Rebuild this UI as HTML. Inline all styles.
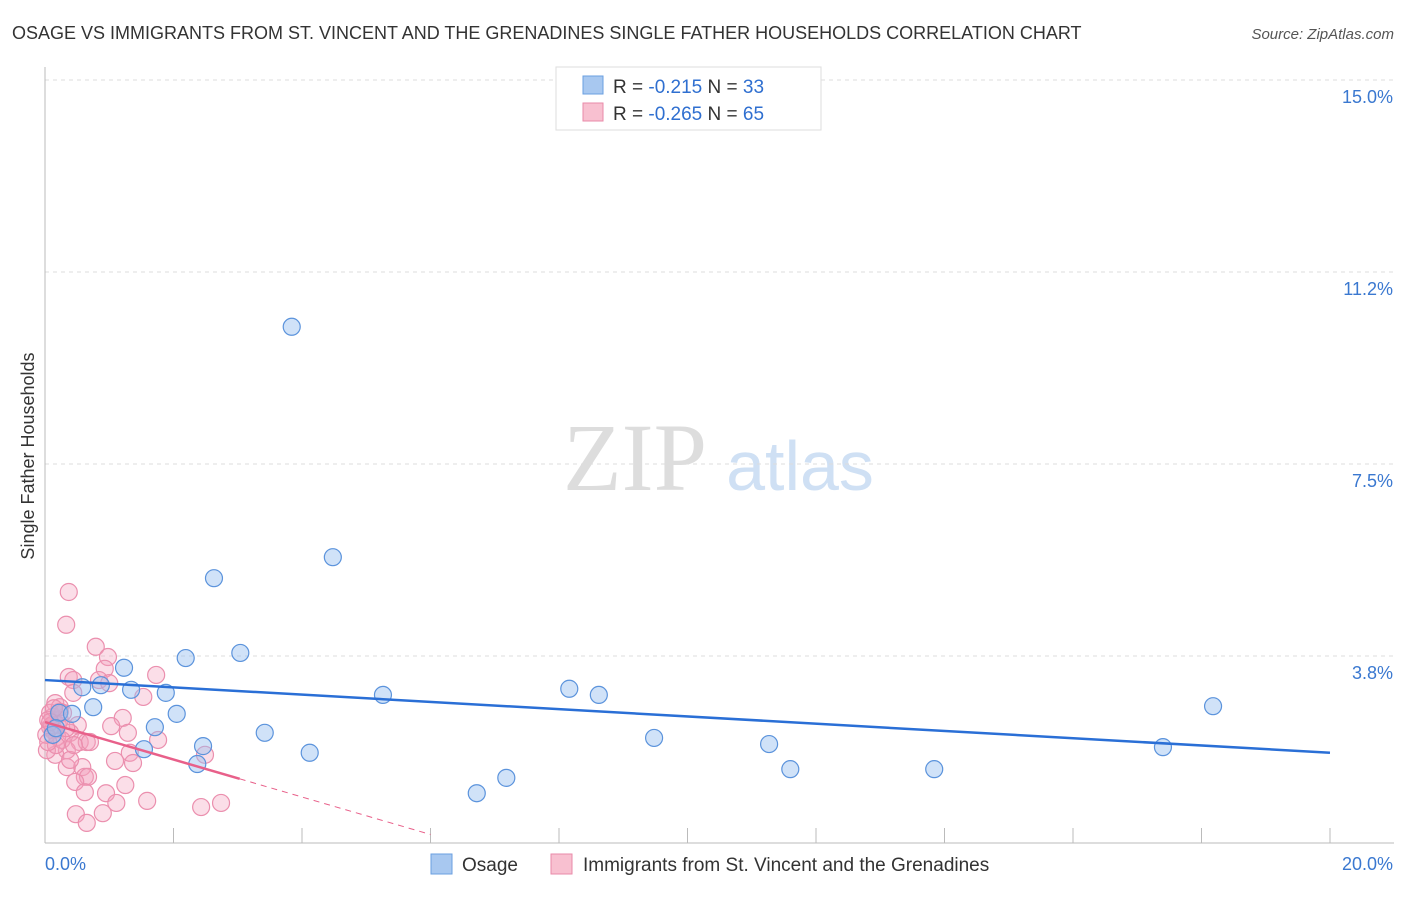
<!DOCTYPE html>
<html><head><meta charset="utf-8"><style>
body{margin:0;background:#fff;font-family:"Liberation Sans",sans-serif}
</style></head><body>
<svg id="c" width="1406" height="892" xmlns="http://www.w3.org/2000/svg">
<text x="12" y="39" font-size="18" fill="#333">OSAGE VS IMMIGRANTS FROM ST. VINCENT AND THE GRENADINES SINGLE FATHER HOUSEHOLDS CORRELATION CHART</text>
<text x="1394" y="39" font-size="15" fill="#555" font-style="italic" text-anchor="end">Source: ZipAtlas.com</text>
<text x="635" y="490" font-size="96" fill="#ddd" font-family="Liberation Serif,serif" text-anchor="middle">ZIP</text>
<text x="800" y="490" font-size="70" fill="#cfe0f4" text-anchor="middle">atlas</text>
<text transform="translate(34,456) rotate(-90)" font-size="18" fill="#333" text-anchor="middle">Single Father Households</text>
<g id="grid"></g><g id="pts"></g><g id="lines"></g>
<g>
<rect x="556" y="67" width="265" height="63" fill="#fff" stroke="#ddd"/>
<rect x="583" y="76" width="20" height="18" fill="#a8c8f0" stroke="#6a9fe0"/>
<rect x="583" y="103" width="20" height="18" fill="#f8c0d0" stroke="#e98aa8"/>
<text x="613" y="93" font-size="19" fill="#333">R = <tspan fill="#2f6fd0">-0.215</tspan>   N = <tspan fill="#2f6fd0">33</tspan></text>
<text x="613" y="120" font-size="19" fill="#333">R = <tspan fill="#2f6fd0">-0.265</tspan>   N = <tspan fill="#2f6fd0">65</tspan></text>
</g>
<g>
<rect x="431" y="854" width="21" height="20" fill="#a8c8f0" stroke="#6a9fe0"/>
<text x="462" y="871" font-size="19" fill="#333">Osage</text>
<rect x="551" y="854" width="21" height="20" fill="#f8c0d0" stroke="#e98aa8"/>
<text x="583" y="871" font-size="19" fill="#333">Immigrants from St. Vincent and the Grenadines</text>
</g>
</svg>
<script>
const yTicks=[3.75,7.5,11.25,15];
const yTickLabels=["3.8%","7.5%","11.2%","15.0%"];
const xTickLabels=["0.0%","20.0%"];
const osageX=[3.84,4.48,2.63,3.04,2.19,1.23,0.58,0.87,1.34,1.88,5.26,8.16,8.62,0.75,2.05,0.22,18.18,1.71,3.42,9.48,2.46,1.54,11.27,4.12,17.40,2.37,11.60,13.84,7.18,6.72,0.12,0.17,0.42];
const osageY=[10.18,5.68,5.27,3.81,3.71,3.52,3.14,3.18,3.09,3.03,2.99,3.11,2.99,2.75,2.62,2.64,2.77,2.36,2.25,2.15,1.99,1.93,2.03,1.86,1.97,1.64,1.54,1.54,1.37,1.07,2.21,2.34,2.62];
const svgX=[0.37,0.33,0.79,0.98,0.93,0.37,0.44,0.84,1.00,1.73,0.44,1.53,0.16,0.12,0.23,0.08,0.51,1.21,1.03,1.29,0.39,0.19,0.54,0.65,1.76,0.34,0.16,1.32,1.09,1.37,2.49,0.34,0.58,0.62,0.67,0.47,1.25,0.62,0.95,1.11,1.59,2.43,2.74,0.90,0.48,0.65,0.03,0.08,0.28,0.12,0.23,0.05,0.11,0.20,0.02,0.26,0.17,0.39,0.70,0.23,0.14,0.05,0.33,0.45,0.08];
const svgY=[5.00,4.36,3.93,3.73,3.50,3.34,3.28,3.28,3.22,3.38,3.03,2.95,2.83,2.56,2.50,2.36,2.40,2.54,2.38,2.25,2.25,2.17,2.07,2.07,2.11,1.91,1.82,1.86,1.70,1.66,1.82,1.58,1.58,1.39,1.39,1.29,1.23,1.09,1.07,0.88,0.92,0.80,0.88,0.68,0.66,0.49,1.91,2.64,2.64,2.30,2.75,2.50,2.40,2.40,2.21,2.11,2.01,1.72,2.07,2.66,2.73,2.07,2.34,2.01,2.46];
const osageTrend=[3.28,1.86];
const svgTrend=[2.46,-0.366];
const X0=45,X1=1330,Y0=848,PY=51.2;
const sx=v=>X0+(X1-X0)*v/20, sy=v=>Y0-v*PY;
const NS="http://www.w3.org/2000/svg";
function mk(p,t,a){const e=document.createElementNS(NS,t);for(const k in a)e.setAttribute(k,a[k]);p.appendChild(e);return e;}
const grid=document.getElementById('grid');
yTicks.forEach((v,i)=>{
 const l=mk(grid,'line',{x1:45,x2:1394,y1:sy(v),y2:sy(v),stroke:'#ddd','stroke-dasharray':'4,4'});
 
 
 const t=mk(grid,'text',{x:1393,y:sy(v)+23,'font-size':18,fill:'#3a78d0','text-anchor':'end'});
 t.textContent=yTickLabels[i];
 
 
});
const ax=mk(grid,'line',{x1:45,x2:45,y1:67,y2:843,stroke:'#bbb'});


const bx=mk(grid,'line',{x1:45,x2:1394,y1:843,y2:843,stroke:'#bbb'});


for(let i=0;i<=10;i++){
 const tk=mk(grid,'line',{x1:sx(i*2),x2:sx(i*2),y1:828,y2:843,stroke:'#bbb'});
 
 
}
[[0,45,'start'],[1,1393,'end']].forEach(([i,x,a])=>{
 const t=mk(grid,'text',{x:x,y:870,'font-size':18,fill:'#3a78d0','text-anchor':a});
 t.textContent=xTickLabels[i];
 
 
});
const pts=document.getElementById('pts');
svgX.forEach((v,i)=>{
 const c=mk(pts,'circle',{cx:sx(v),cy:sy(svgY[i]),r:8.5,fill:'rgba(244,160,190,0.35)',stroke:'#eb8fae','stroke-width':1.2});
 
 
});
osageX.forEach((v,i)=>{
 const c=mk(pts,'circle',{cx:sx(v),cy:sy(osageY[i]),r:8.5,fill:'rgba(150,190,240,0.45)',stroke:'#5b93dc','stroke-width':1.2});
 
 
});
const lines=document.getElementById('lines');
const bl=mk(lines,'line',{x1:sx(0),y1:sy(osageTrend[0]),x2:sx(20),y2:sy(osageTrend[1]),stroke:'#2a6fd6','stroke-width':2.5});


const pe=3.03, pd=6.0;
const pl=mk(lines,'line',{x1:sx(0),y1:sy(svgTrend[0]),x2:sx(pe),y2:sy(svgTrend[0]+svgTrend[1]*pe),stroke:'#e8608a','stroke-width':2.5});


const pdl=mk(lines,'line',{x1:sx(pe),y1:sy(svgTrend[0]+svgTrend[1]*pe),x2:sx(pd),y2:sy(svgTrend[0]+svgTrend[1]*pd),stroke:'#e8608a','stroke-width':1,'stroke-dasharray':'6,5'});


</script>
</body></html>
